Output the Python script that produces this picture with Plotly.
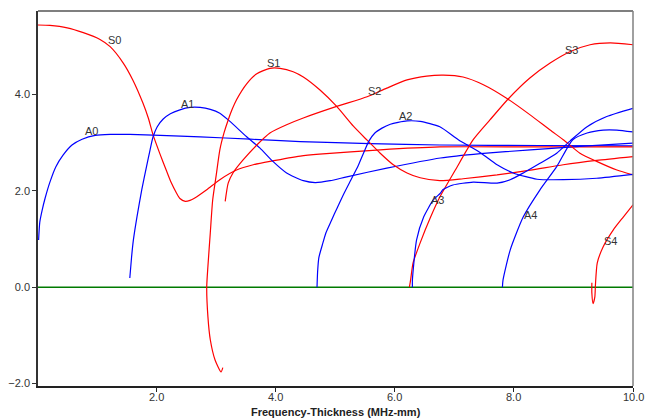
import plotly.graph_objects as go

# Lamb-wave group velocity dispersion curves (velocity in km/s vs frequency-thickness)
x_ticks = [2, 4, 6, 8, 10]
y_ticks = [-2, 0, 2, 4]

a0_fd = [0.03, 0.05, 0.09, 0.14, 0.22, 0.32, 0.44, 0.59, 0.76, 0.98, 1.23, 1.56, 2.07, 2.74, 3.58, 4.42, 5.59, 6.76, 8.44, 10.0]
a0_vg = [0.98, 1.35, 1.60, 1.85, 2.18, 2.50, 2.74, 2.95, 3.07, 3.15, 3.17, 3.17, 3.15, 3.12, 3.07, 3.02, 2.98, 2.95, 2.94, 2.93]

s0_fd = [0.02, 0.22, 0.51, 0.78, 1.06, 1.23, 1.45, 1.61, 1.78, 1.87, 1.95, 2.07, 2.17, 2.25, 2.34, 2.40, 2.49, 2.57, 2.65, 2.85, 3.07, 3.35, 3.63, 3.91, 4.42, 4.74, 5.76, 6.76, 8.28, 10.0]
s0_vg = [5.44, 5.43, 5.38, 5.28, 5.14, 4.99, 4.65, 4.30, 3.82, 3.51, 3.16, 2.75, 2.43, 2.18, 1.96, 1.84, 1.78, 1.80, 1.85, 2.02, 2.23, 2.43, 2.54, 2.61, 2.72, 2.76, 2.85, 2.91, 2.91, 2.91]

a1_fd = [1.56, 1.59, 1.62, 1.68, 1.76, 1.84, 1.90, 1.95, 2.02, 2.12, 2.24, 2.40, 2.57, 2.74, 2.91, 3.07, 3.24, 3.52, 3.74, 3.96, 4.19, 4.47, 4.67, 4.92, 5.20, 5.87, 6.77, 7.44, 8.28, 9.11, 10.0]
a1_vg = [0.19, 0.63, 0.98, 1.46, 2.02, 2.50, 2.85, 3.12, 3.33, 3.49, 3.60, 3.68, 3.73, 3.73, 3.69, 3.61, 3.44, 3.12, 2.89, 2.61, 2.37, 2.21, 2.17, 2.21, 2.29, 2.47, 2.68, 2.77, 2.85, 2.92, 2.99]

s1_fd = [3.12, 3.09, 2.99, 2.91, 2.87, 2.85, 2.87, 2.91, 2.95, 3.01, 3.07, 3.14, 3.21, 3.28, 3.35, 3.52, 3.69, 3.91, 4.08, 4.30, 4.47, 4.75, 5.03, 5.31, 5.54, 5.76, 5.98, 6.21, 6.43, 6.76, 7.15, 7.72, 8.28, 8.83, 9.39, 10.0]
s1_vg = [-1.67, -1.76, -1.51, -1.09, -0.61, 0.00, 0.43, 1.13, 1.81, 2.33, 2.85, 3.20, 3.47, 3.70, 3.89, 4.22, 4.43, 4.54, 4.54, 4.47, 4.36, 4.09, 3.75, 3.34, 3.05, 2.78, 2.54, 2.37, 2.27, 2.21, 2.25, 2.33, 2.43, 2.54, 2.63, 2.71]

s2_fd = [3.16, 3.21, 3.29, 3.46, 3.69, 3.91, 4.19, 4.47, 5.03, 5.54, 5.87, 6.21, 6.54, 6.82, 7.15, 7.49, 7.88, 8.28, 8.61, 8.83, 9.11, 9.39, 9.73, 10.0]
s2_vg = [1.78, 2.16, 2.37, 2.64, 2.95, 3.20, 3.37, 3.51, 3.75, 3.95, 4.13, 4.30, 4.38, 4.40, 4.36, 4.20, 3.92, 3.57, 3.26, 3.06, 2.78, 2.61, 2.43, 2.33]

a2_fd = [4.70, 4.71, 4.73, 4.79, 4.85, 4.94, 5.04, 5.15, 5.27, 5.39, 5.49, 5.57, 5.67, 5.79, 5.93, 6.06, 6.21, 6.43, 6.76, 7.07, 7.44, 7.72, 7.99, 8.39, 8.83, 9.39, 10.0]
a2_vg = [0.00, 0.32, 0.61, 0.88, 1.13, 1.38, 1.65, 1.94, 2.23, 2.52, 2.81, 3.03, 3.20, 3.30, 3.38, 3.42, 3.45, 3.44, 3.33, 3.06, 2.79, 2.54, 2.37, 2.24, 2.23, 2.26, 2.34]

s3_fd = [6.25, 6.27, 6.31, 6.43, 6.60, 6.76, 7.02, 7.32, 7.60, 7.91, 8.27, 8.61, 8.95, 9.28, 9.62, 10.0]
s3_vg = [0.00, 0.15, 0.50, 0.92, 1.44, 1.87, 2.43, 3.06, 3.47, 3.91, 4.34, 4.65, 4.89, 5.03, 5.07, 5.03]

a3_fd = [6.30, 6.30, 6.37, 6.49, 6.65, 6.77, 6.81, 6.98, 7.32, 7.72, 7.94, 8.16, 8.44, 8.72, 8.95, 9.23, 9.56, 10.0]
a3_vg = [0.00, 0.15, 0.98, 1.46, 1.81, 1.95, 2.02, 2.12, 2.18, 2.16, 2.23, 2.37, 2.57, 2.78, 3.04, 3.33, 3.54, 3.71]

a4_fd = [7.81, 7.82, 7.94, 8.16, 8.44, 8.72, 8.99, 9.23, 9.50, 9.73, 10.0]
a4_vg = [0.00, 0.15, 0.77, 1.46, 2.02, 2.50, 3.06, 3.20, 3.26, 3.26, 3.22]

s4_fd = [9.31, 9.31, 9.33, 9.36, 9.37, 9.40, 9.50, 9.67, 9.84, 10.0]
s4_vg = [0.09, -0.12, -0.34, -0.20, 0.05, 0.50, 0.84, 1.19, 1.46, 1.71]

zero_fd = [0.0, 10.0]
zero_vg = [0.0, 0.0]

# mode name, label position (fd, vg)
labels = [
    ("S0", 1.31, 5.13), ("A0", 0.92, 3.24), ("A1", 2.53, 3.81), ("S1", 3.97, 4.66),
    ("S2", 5.66, 4.08), ("A2", 6.18, 3.56), ("S3", 8.96, 4.92), ("A3", 6.72, 1.80),
    ("A4", 8.28, 1.50), ("S4", 9.62, 0.95),
]

RED = "#ff0000"
BLUE = "#0000ff"
FONT = "Liberation Sans, Arial, sans-serif"

fig = go.Figure()
fig.add_trace(go.Scatter(x=zero_fd, y=zero_vg, mode="lines",
                         line=dict(color="#007a00", width=1.4), hoverinfo="skip"))

curves = [
    (a0_fd, a0_vg, BLUE), (s0_fd, s0_vg, RED), (a1_fd, a1_vg, BLUE),
    (s1_fd, s1_vg, RED), (s2_fd, s2_vg, RED), (a2_fd, a2_vg, BLUE),
    (s3_fd, s3_vg, RED), (a3_fd, a3_vg, BLUE), (a4_fd, a4_vg, BLUE),
    (s4_fd, s4_vg, RED),
]
for fd, vg, col in curves:
    fig.add_trace(go.Scatter(x=fd, y=vg, mode="lines",
                             line=dict(color=col, width=1.2, shape="spline", smoothing=0.6)))

for name, fx, fy in labels:
    fig.add_annotation(x=fx, y=fy, text=name, showarrow=False,
                       font=dict(family=FONT, size=11, color="#333333"),
                       xanchor="center", yanchor="middle")

# x tick labels placed close under the axis
for v in x_ticks:
    fig.add_annotation(x=v, xref="x", yref="paper", y=-0.029, text=f"{v:.1f}",
                       showarrow=False, xanchor="center", yanchor="middle",
                       font=dict(family=FONT, size=11, color="#333333"))

# axis title below the tick labels
fig.add_annotation(xref="paper", yref="paper", x=0.5, y=-0.068, showarrow=False,
                   text="<b>Frequency-Thickness (MHz-mm)</b>", xanchor="center", yanchor="middle",
                   font=dict(family=FONT, size=11, color="#222222"))

# frame: dark top border, lighter right border
fig.add_shape(type="line", xref="paper", yref="paper", x0=0, x1=1, y0=1, y1=1,
              line=dict(color="#000000", width=1.2))
fig.add_shape(type="line", xref="paper", yref="paper", x0=1, x1=1, y0=0, y1=1,
              line=dict(color="#808080", width=1.5))

fig.update_layout(
    width=651, height=418,
    margin=dict(l=38, r=18, t=11, b=32),
    paper_bgcolor="white", plot_bgcolor="white",
    showlegend=False,
    font=dict(family=FONT, size=11, color="#333333"),
    xaxis=dict(range=[0.02, 10.0], tickvals=x_ticks, showticklabels=False, automargin=False,
               showgrid=False, zeroline=False, showline=True, linecolor="#222222",
               linewidth=1.5, ticks="outside", ticklen=4, tickcolor="#222222"),
    yaxis=dict(range=[-2.05, 5.73], tickvals=y_ticks, tickformat=".1f", automargin=False,
               showgrid=False, zeroline=False, showline=True, linecolor="#333333",
               linewidth=1.5, ticks="outside", ticklen=4, tickcolor="#333333",
               tickfont=dict(family=FONT, size=11, color="#333333")),
)

fig.write_html("out.html")
